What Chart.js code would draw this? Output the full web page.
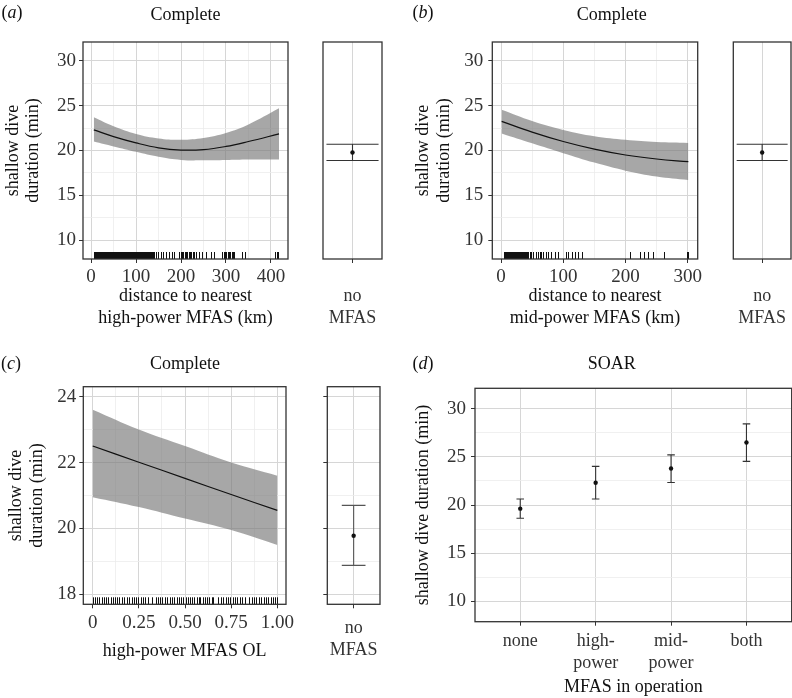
<!DOCTYPE html>
<html>
<head>
<meta charset="utf-8">
<title>Shallow dive duration</title>
<script src="https://cdn.jsdelivr.net/npm/chart.js@4.4.1/dist/chart.umd.min.js"></script>
<style>
html, body { margin: 0; padding: 0; background: #fff; overflow: hidden; }
#wrap { position: relative; width: 792px; height: 698px; overflow: hidden; }
canvas { position: absolute; }
.hd { position: absolute; font-family: 'Liberation Serif', 'Times New Roman', serif; font-size: 18px; line-height: 22px;
      color: #111; transform: translate(-50%, -50%); white-space: nowrap; }
</style>
</head>
<body>
<div id="wrap">
  <canvas id="aMain" width="300" height="330" style="left:0;top:0"></canvas>
  <canvas id="aSide" width="92" height="330" style="left:300px;top:0"></canvas>
  <canvas id="bMain" width="310" height="330" style="left:400px;top:0"></canvas>
  <canvas id="bSide" width="90" height="330" style="left:710px;top:0"></canvas>
  <canvas id="cMain" width="300" height="332" style="left:0;top:330px"></canvas>
  <canvas id="cSide" width="92" height="332" style="left:300px;top:330px"></canvas>
  <canvas id="dMain" width="400" height="368" style="left:400px;top:330px"></canvas>

  <div class="hd" style="left:12px;top:12px">(<i>a</i>)</div>
  <div class="hd" style="left:185.5px;top:14px">Complete</div>
  <div class="hd" style="left:423px;top:12px">(<i>b</i>)</div>
  <div class="hd" style="left:611.7px;top:14px">Complete</div>
  <div class="hd" style="left:11px;top:363px">(<i>c</i>)</div>
  <div class="hd" style="left:185px;top:363px">Complete</div>
  <div class="hd" style="left:423px;top:363px">(<i>d</i>)</div>
  <div class="hd" style="left:611.7px;top:363px">SOAR</div>
</div>
<script>
// (a) distance to nearest high-power MFAS (km)
const xA = [6, 50, 100, 150, 200, 250, 300, 350, 418];
const fitA = [22.3, 21.55, 20.85, 20.3, 20.05, 20.1, 20.45, 21.0, 21.85];
const upA = [23.7, 22.7, 21.85, 21.35, 21.2, 21.4, 21.95, 22.9, 24.7];
const loA = [21.0, 20.45, 19.85, 19.3, 18.95, 18.9, 18.95, 19.0, 19.0];
const rugA = [6, 8, 9, 11, 13, 14, 16, 18, 20, 21, 23, 25, 27, 28, 30, 32, 34, 36, 37, 39, 41, 43, 45, 47, 48,
  50, 52, 54, 56, 58, 60, 62, 63, 65, 67, 69, 71, 73, 75, 77, 79, 81, 83, 85, 87, 89, 91, 93, 95, 97, 99,
  101, 103, 105, 107, 109, 111, 113, 115, 117, 119, 121, 123, 125, 127, 129, 131, 133, 135, 137, 139,
  143.7, 149, 154.8, 160, 166, 173, 179, 184, 196, 199, 202, 205, 208, 211, 214, 217, 220, 223, 226, 229,
  232.6, 240, 247, 255, 266, 273, 292, 295, 298, 301, 304, 307, 310, 313, 316, 318, 336, 341.5, 410, 413, 416];

// (b) distance to nearest mid-power MFAS (km)
const xB = [1, 50, 100, 150, 200, 250, 301];
const fitB = [23.25, 22.05, 21.0, 20.15, 19.5, 19.05, 18.75];
const upB = [24.55, 23.3, 22.3, 21.6, 21.2, 20.95, 20.85];
const loB = [21.9, 20.8, 19.7, 18.65, 17.75, 17.1, 16.7];
const rugB = [4, 5.5, 7, 8.5, 10, 11.5, 13, 14.5, 16, 17.5, 19, 20.5, 22, 23.5, 25, 26.5, 28, 29.5, 31, 32.5,
  34, 35.5, 37, 38.5, 40, 41.5, 43, 46, 48.6, 51.2, 56.7, 59.3, 62, 64.8, 67.4, 73, 75.5, 81, 86.4, 91.7,
  105, 108, 113.5, 118.8, 124, 129.7, 206.8, 223, 229.5, 236.6, 243.6, 262, 299.5, 300.5];

// (c) high-power MFAS OL
const xC = [0, 0.25, 0.5, 0.75, 1.0];
const fitC = [22.5, 22.01, 21.52, 21.03, 20.55];
const upC = [23.6, 23.0, 22.5, 22.0, 21.6];
const loC = [20.95, 20.65, 20.3, 19.95, 19.5];
const rugC = [0, .012, .024, .036, .048, .06, .072, .085, .097, .109, .121, .133, .145, .158, .17, .184,
  .199, .211, .223, .235, .247, .259, .271, .283, .301, .319, .341, .353, .365, .377, .389, .401,
  .419, .431, .443, .455, .467, .479, .491, .503, .515, .527, .539, .551, .563, .575, .581,
  .596, .608, .62, .632, .644, .653, .681, .694, .707, .72, .733, .746, .759, .771, .783, .797, .811, .825,
  .848, .861, .874, .887, .9, .913, .926, .939, .952, .965, .978, .99, 1.0];

// no MFAS estimate (side panels)
const noMfasEst = [19.78];
const noMfasLo = [18.88];
const noMfasHi = [20.7];
const noMfasLabel = [['no', 'MFAS']];

// (d) SOAR
const soarCats = ['none', 'high-power', 'mid-power', 'both'];
const soarLabels = [['none'], ['high-', 'power'], ['mid-', 'power'], ['both']];
const soarEst = [19.62, 22.31, 23.79, 26.48];
const soarLo = [18.62, 20.62, 22.34, 24.52];
const soarHi = [20.62, 24.0, 25.2, 28.41];

// ticks
const yTicks = [10, 15, 20, 25, 30];
const yMinor = [12.5, 17.5, 22.5, 27.5];
const yTicksC = [18, 20, 22, 24];
const yMinorC = [19, 21, 23];
const xTicksA = [0, 100, 200, 300, 400];
const xMinorA = [50, 150, 250, 350];
const xTicksB = [0, 100, 200, 300];
const xMinorB = [50, 150, 250];
const xTicksC = [0, 0.25, 0.5, 0.75, 1];
const xLabelsC = ['0', '0.25', '0.50', '0.75', '1.00'];
const xMinorC = [0.125, 0.375, 0.625, 0.875];

const GRID_MAJOR = '#d6d6d6';
const GRID_MINOR = '#ececec';
const AXIS_COL = '#333';
const BAND = 'rgba(120,120,120,0.65)';
const yTitle2 = ['shallow dive', 'duration (min)'];

Chart.defaults.font.family = "'Liberation Serif', 'Times New Roman', serif";
Chart.defaults.font.size = 18;
Chart.defaults.color = '#333';

function toPts(xs, ys) { return xs.map((x, i) => ({x: x, y: ys[i]})); }

function axis(o) {
  const major = o.major, minor = o.minor || [];
  return {
    type: 'linear', min: o.min, max: o.max,
    afterBuildTicks: s => { s.ticks = major.concat(minor).sort((p, q) => p - q).map(v => ({value: v})); },
    afterFit: s => {
      if (o.width !== undefined) s.width = o.width;
      if (o.height !== undefined) s.height = o.height;
      s.paddingLeft = s.paddingRight = s.paddingTop = s.paddingBottom = 0;
    },
    border: {display: false},
    grid: {
      display: o.grid !== false,
      color: c => major.includes(c.tick.value) ? GRID_MAJOR : GRID_MINOR,
      lineWidth: c => major.includes(c.tick.value) ? 1 : 0.8,
      drawTicks: o.tickMarks !== false,
      tickLength: 4,
      tickWidth: 1,
      tickColor: c => major.includes(c.tick.value) ? AXIS_COL : 'rgba(0,0,0,0)'
    },
    ticks: {
      display: o.showLabels !== false,
      autoSkip: false, maxRotation: 0,
      padding: o.pad === undefined ? 3 : o.pad,
      font: {size: o.tickSize || 19, lineHeight: 22 / (o.tickSize || 19)},
      callback: v => {
        const i = major.indexOf(v);
        return i < 0 ? '' : (o.labels ? o.labels[i] : String(v));
      }
    },
    title: o.title ? {
      display: true, text: o.title, color: '#111',
      font: {size: 18, lineHeight: o.titleLH / 18},
      padding: o.titlePad
    } : {display: false}
  };
}

const panelBox = {
  id: 'panelBox',
  afterDatasetsDraw(chart) {
    const {ctx, chartArea: a} = chart;
    ctx.save();
    ctx.strokeStyle = AXIS_COL;
    ctx.lineWidth = 1.3;
    ctx.strokeRect(a.left, a.top, a.right - a.left, a.bottom - a.top);
    ctx.restore();
  }
};

function rugPlugin(values, len) {
  return {
    id: 'rug',
    afterDatasetsDraw(chart) {
      const {ctx, chartArea, scales} = chart;
      ctx.save();
      ctx.strokeStyle = '#111';
      ctx.lineWidth = 1;
      ctx.beginPath();
      values.forEach(v => {
        const px = Math.round(scales.x.getPixelForValue(v)) + 0.5;
        ctx.moveTo(px, chartArea.bottom - len);
        ctx.lineTo(px, chartArea.bottom);
      });
      ctx.stroke();
      ctx.restore();
    }
  };
}

function errorBars(xs, lo, hi, cap, color) {
  return {
    id: 'errorBars',
    beforeDatasetsDraw(chart) {
      const {ctx, scales: {x, y}} = chart;
      ctx.save();
      ctx.strokeStyle = color;
      ctx.lineWidth = 1.1;
      xs.forEach((xv, i) => {
        const px = x.getPixelForValue(xv);
        const l = x.getPixelForValue(xv - cap), r = x.getPixelForValue(xv + cap);
        const top = y.getPixelForValue(hi[i]), bot = y.getPixelForValue(lo[i]);
        ctx.beginPath();
        ctx.moveTo(px, top); ctx.lineTo(px, bot);
        ctx.moveTo(l, top); ctx.lineTo(r, top);
        ctx.moveTo(l, bot); ctx.lineTo(r, bot);
        ctx.stroke();
      });
      ctx.restore();
    }
  };
}

function baseOptions(padding, x, y) {
  return {
    responsive: false, animation: false, events: [],
    layout: {padding: padding},
    plugins: {legend: {display: false}, tooltip: {enabled: false}, title: {display: false}},
    scales: {x: x, y: y}
  };
}

function curveChart(id, d) {
  new Chart(document.getElementById(id), {
    type: 'line',
    data: {
      datasets: [
        {data: toPts(d.x, d.fit), borderColor: '#111', borderWidth: 1.2, pointRadius: 0, tension: 0.4, fill: false},
        {data: toPts(d.x, d.up), borderColor: 'rgba(0,0,0,0)', borderWidth: 0, pointRadius: 0, tension: 0.4,
         fill: '+1', backgroundColor: BAND},
        {data: toPts(d.x, d.lo), borderColor: 'rgba(0,0,0,0)', borderWidth: 0, pointRadius: 0, tension: 0.4, fill: false}
      ]
    },
    options: baseOptions(d.padding, d.xAxis, d.yAxis),
    plugins: [rugPlugin(d.rug, 7), panelBox]
  });
}

function pointChart(id, d) {
  new Chart(document.getElementById(id), {
    type: 'line',
    data: {
      datasets: [{
        data: toPts(d.x, d.est), showLine: false,
        pointRadius: 2.2, pointBackgroundColor: '#111', pointBorderColor: '#111', pointBorderWidth: 0
      }]
    },
    options: baseOptions(d.padding, d.xAxis, d.yAxis),
    plugins: [errorBars(d.x, d.lo, d.hi, d.cap, d.barColor), panelBox]
  });
}

// (a)
curveChart('aMain', {
  x: xA, fit: fitA, up: upA, lo: loA, rug: rugA,
  padding: {top: 42, right: 12, bottom: 0, left: 0},
  xAxis: axis({min: -18, max: 438, major: xTicksA, minor: xMinorA, height: 71, pad: 3,
    title: ['distance to nearest', 'high-power MFAS (km)'], titleLH: 22, titlePad: {top: 0, bottom: 1}}),
  yAxis: axis({min: 7.9, max: 32.1, major: yTicks, minor: yMinor, width: 83, pad: 3,
    title: yTitle2, titleLH: 20, titlePad: {top: 3, bottom: 0}})
});
pointChart('aSide', {
  x: [1], est: noMfasEst, lo: noMfasLo, hi: noMfasHi, cap: 0.53, barColor: '#333',
  padding: {top: 42, right: 10, bottom: 0, left: 23},
  xAxis: axis({min: 0.4, max: 1.6, major: [1], labels: noMfasLabel, height: 71, pad: 22, tickSize: 18}),
  yAxis: axis({min: 7.9, max: 32.1, major: yTicks, width: 0, grid: false, showLabels: false, tickMarks: false})
});

// (b)
curveChart('bMain', {
  x: xB, fit: fitB, up: upB, lo: loB, rug: rugB,
  padding: {top: 42, right: 12.3, bottom: 0, left: 0},
  xAxis: axis({min: -14, max: 316, major: xTicksB, minor: xMinorB, height: 71, pad: 3,
    title: ['distance to nearest', 'mid-power MFAS (km)'], titleLH: 22, titlePad: {top: 0, bottom: 1}}),
  yAxis: axis({min: 7.9, max: 32.1, major: yTicks, minor: yMinor, width: 92.3, pad: 5,
    title: yTitle2, titleLH: 21, titlePad: {top: 12.8, bottom: 0}})
});
pointChart('bSide', {
  x: [1], est: noMfasEst, lo: noMfasLo, hi: noMfasHi, cap: 0.53, barColor: '#333',
  padding: {top: 42, right: 9, bottom: 0, left: 23.3},
  xAxis: axis({min: 0.4, max: 1.6, major: [1], labels: noMfasLabel, height: 71, pad: 22, tickSize: 18}),
  yAxis: axis({min: 7.9, max: 32.1, major: yTicks, width: 0, grid: false, showLabels: false, tickMarks: false})
});

// (c)
curveChart('cMain', {
  x: xC, fit: fitC, up: upC, lo: loC, rug: rugC,
  padding: {top: 56.7, right: 14, bottom: 0, left: 0},
  xAxis: axis({min: -0.051, max: 1.047, major: xTicksC, minor: xMinorC, labels: xLabelsC, height: 57.7, pad: 4,
    title: 'high-power MFAS OL', titleLH: 22, titlePad: {top: 0, bottom: 0}}),
  yAxis: axis({min: 17.7, max: 24.3, major: yTicksC, minor: yMinorC, width: 83.3, pad: 3,
    title: yTitle2, titleLH: 21, titlePad: {top: 6, bottom: 0}})
});
pointChart('cSide', {
  x: [1], est: noMfasEst, lo: noMfasLo, hi: noMfasHi, cap: 0.27, barColor: '#555',
  padding: {top: 56.7, right: 12, bottom: 0, left: 23.3},
  xAxis: axis({min: 0.4, max: 1.6, major: [1], labels: noMfasLabel, height: 57.7, pad: 9, tickSize: 18}),
  yAxis: axis({min: 17.7, max: 24.3, major: yTicksC, minor: yMinorC, width: 4, showLabels: false})
});

// (d)
pointChart('dMain', {
  x: soarCats.map((c, i) => i + 1), est: soarEst, lo: soarLo, hi: soarHi, cap: 0.05, barColor: '#333',
  padding: {top: 58.3, right: 8.3, bottom: 0, left: 0},
  xAxis: axis({min: 0.4, max: 4.6, major: soarCats.map((c, i) => i + 1), labels: soarLabels, height: 76.3, pad: 5,
    tickSize: 18, title: 'MFAS in operation', titleLH: 22, titlePad: {top: 0, bottom: 0}}),
  yAxis: axis({min: 7.9, max: 32.1, major: yTicks, minor: yMinor, width: 75, pad: 5,
    title: 'shallow dive duration (min)', titleLH: 21, titlePad: {top: 12.8, bottom: 0}})
});
</script>
</body>
</html>
